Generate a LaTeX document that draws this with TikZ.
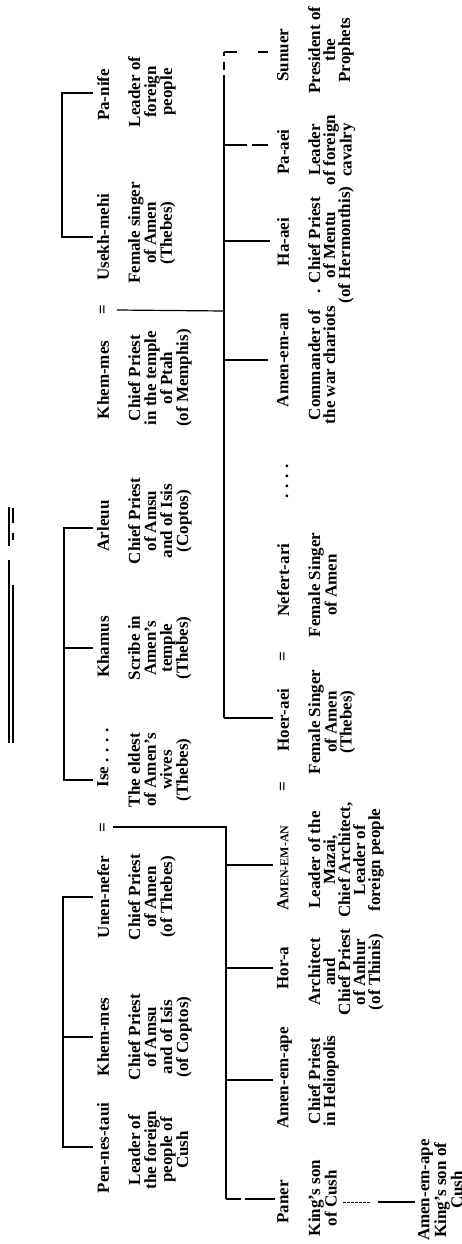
\documentclass[tikz,border=0pt]{standalone}
\usepackage{fontspec}
\setmainfont{Liberation Serif}
\newcommand\nmfont{\fontsize{17}{16}\selectfont\bfseries}
\newcommand\dsfont{\fontsize{17}{16}\selectfont\bfseries}
\newcommand\dsfontb{\fontsize{17}{15}\selectfont\bfseries}
\newcommand\scA{\fontsize{12}{12}\selectfont}
\begin{document}
\begin{tikzpicture}[x=1pt,y=-1pt,
 nm/.style={rotate=90,anchor=north,inner sep=0pt,font=\nmfont},
 eqs/.style={rotate=90,anchor=center,inner sep=0pt,font=\nmfont},
 ds/.style={rotate=90,anchor=north,inner sep=0pt,align=center,font=\dsfont},
 dsb/.style={rotate=90,anchor=north,inner sep=0pt,align=center,font=\dsfontb},
 ln/.style={line width=1.2pt},
 thinln/.style={line width=0.7pt,dash pattern=on 3pt off 1pt}]
\useasboundingbox (0,0) rectangle (461,1244);

% ---------- generation 1: names ----------
\node[nm] (pennes) at (97,1148) {Pen-nes-taui};
\node[nm] (khem1)  at (97,1037) {Khem-mes};
\node[nm] (unen)   at (97,897)  {Unen-nefer};
\node[eqs] (eq1)   at (104,828) {=};
\node[nm] (ise)    at (97,758)  {Ise . . . .};
\node[nm] (khamus) at (97,647)  {Khamus};
\node[nm] (arleuu) at (97,526)  {Arleuu};
\node[nm] (khem2)  at (97,380)  {Khem-mes};
\node[eqs] (eq2)   at (104,310) {=};
\node[nm] (usekh)  at (97,237)  {Usekh-mehi};
\node[nm] (panife) at (97,95)   {Pa-nife};

% ---------- generation 1: descriptions ----------
\node[ds] (dpennes) at (128,1150) {Leader of\\the foreign\\people of\\Cush};
\node[ds] (dkhem1)  at (128,1037) {Chief Priest\\of Amsu\\and of Isis\\(of Coptos)};
\node[ds] (dunen)   at (128,897)  {Chief Priest\\of Amen\\(of Thebes)};
\node[ds] (dise)    at (128,770)  {The eldest\\of Amen's\\wives\\(Thebes)};
\node[ds] (dkhamus) at (128,648)  {Scribe in\\Amen's\\temple\\(Thebes)};
\node[ds] (darleuu) at (128,521)  {Chief Priest\\of Amsu\\and of Isis\\(Coptos)};
\node[ds] (dkhem2)  at (128,378)  {Chief Priest\\in the temple\\of Ptah\\(of Memphis)};
\node[ds] (dusekh)  at (128,233)  {Female singer\\of Amen\\(Thebes)};
\node[ds] (dpanife) at (128,92)   {Leader of\\foreign\\people};

% ---------- generation 2: names ----------
\node[nm] (paner)   at (277,1202) {Paner};
\node[nm] (amape)   at (277,1078) {Amen-em-ape};
\node[nm] (hora)    at (277,968)  {Hor-a};
\node[nm] (AMAN)    at (277,868)  {A{\scA MEN-EM-AN}};
\node[eqs] (eq3)    at (284,787)  {=};
\node[nm] (hoer)    at (277,720)  {Hoer-aei};
\node[eqs] (eq4)    at (284,657)  {=};
\node[nm] (nefert)  at (277,580)  {Nefert-ari};
\node[eqs] (dots)   at (287,481)  {. . . .};
\node[nm] (amenan)  at (277,360)  {Amen-em-an};
\node[nm] (haaei)   at (277,242)  {Ha-aei};
\node[nm] (paaei)   at (277,152)  {Pa-aei};
\node[nm] (sunuer)  at (277,55)   {Sunuer};

% ---------- generation 2: descriptions ----------
\node[dsb] (dpaner)  at (308,1198) {King's son\\of Cush};
\node[dsb] (damape)  at (308,1081) {Chief Priest\\in Heliopolis};
\node[dsb] (dhora)   at (308,972)  {Architect\\and\\Chief Priest\\of Anhur\\(of Thinis)};
\node[dsb] (dAMAN)   at (308,860)  {Leader of the\\Mazai,\\Chief Architect,\\Leader of\\foreign people};
\node[dsb] (dhoer)   at (308,722)  {Female Singer\\of Amen\\(Thebes)};
\node[dsb] (dnefert) at (308,585)  {Female Singer\\of Amen};
\node[dsb] (damenan) at (308,365)  {Commander of\\the war chariots};
\node[dsb] (dhaaei)  at (308,245)  {. Chief Priest\\of Mentu\\(of Hermonthis)};
\node[dsb] (dpaaei)  at (308,150)  {Leader\\of foreign\\cavalry};
\node[dsb] (dsunuer) at (308,50)   {President of\\the\\Prophets};

% ---------- generation 3 ----------
\node[dsb] (amape3) at (418,1190) {Amen-em-ape\\King's son of\\Cush};

% ---------- top double line ----------
\draw[ln] (9,507) -- (9,546) (9,560) -- (9,743);
\draw[ln] (13,508) -- (13,523) (13,533) -- (13,540) (13,585) -- (13,743);

% ---------- coordinates for brackets ----------
\coordinate (a1) at (63,897);  \coordinate (a1e) at (93,897);
\coordinate (a2) at (63,1037); \coordinate (a2e) at (93,1037);
\coordinate (a3) at (63,1147); \coordinate (a3e) at (93,1147);
\coordinate (b1) at (64,528);  \coordinate (b1e) at (93,528);
\coordinate (b2) at (64,648);  \coordinate (b2e) at (93,648);
\coordinate (b3) at (64,780);  \coordinate (b3e) at (93,780);
\coordinate (c1) at (62,93);   \coordinate (c1e) at (93,93);
\coordinate (c2) at (62,237);  \coordinate (c2e) at (93,237);

\coordinate (m1s) at (113,827); \coordinate (m1c) at (226,827);
\coordinate (m1b) at (226,1199);
\coordinate (m2s) at (117,310); \coordinate (m2c) at (224,311);
\coordinate (m2t) at (224,52);  \coordinate (m2b) at (224,718);

% generation 1 brackets
\draw[ln] (a1e) -- (a1) -- (a3) -- (a3e);
\draw[ln] (a2) -- (a2e);
\draw[ln] (b1e) -- (b1) -- (b3) -- (b3e);
\draw[ln] (b2) -- (b2e);
\draw[ln] (c1e) -- (c1) -- (c2) -- (c2e);

% Unen-nefer = Ise and their children
\draw[ln] (m1s) -- (m1c) -- (m1b);
\coordinate (k1) at (226,865);  \coordinate (k1e) at (273,865);
\coordinate (k2) at (226,968);  \coordinate (k2e) at (273,968);
\coordinate (k3) at (226,1080); \coordinate (k3e) at (273,1080);
\coordinate (k4e) at (241,1199); \coordinate (k4f) at (245,1199); \coordinate (k4g) at (275,1199);
\draw[ln] (k1) -- (k1e);
\draw[ln] (k2) -- (k2e);
\draw[ln] (k3) -- (k3e);
\draw[ln] (m1b) -- (k4e) (k4f) -- (k4g);

% Khem-mes = Usekh-mehi and their children
\draw[ln] (m2s) -- (m2c);
\coordinate (m2u) at (224,62);  \coordinate (m2v) at (224,70); \coordinate (m2w) at (224,75);
\coordinate (m2x) at (224,56);
\draw[ln] (m2t) -- (m2x) (m2u) -- (m2v) (m2w) -- (m2b);
\coordinate (h1e) at (273,718);
\coordinate (h2) at (224,360); \coordinate (h2e) at (268,360);
\coordinate (h3) at (224,241); \coordinate (h3e) at (270,241);
\coordinate (h4) at (224,145); \coordinate (h4a) at (247,145); \coordinate (h4b) at (252,145); \coordinate (h4e) at (268,145);
\coordinate (h5) at (224,52);  \coordinate (h5a) at (237,52);  \coordinate (h5b) at (258,52);  \coordinate (h5e) at (268,52);
\draw[ln] (m2b) -- (h1e);
\draw[ln] (h2) -- (h2e);
\draw[ln] (h3) -- (h3e);
\draw[ln] (h4) -- (h4a) (h4b) -- (h4e);
\draw[ln] (h5) -- (h5a) (h5b) -- (h5e);

% Paner to his son
\coordinate (p1) at (343,1202); \coordinate (p2) at (370,1202);
\coordinate (p3) at (378,1202); \coordinate (p4) at (415,1202);
\draw[thinln] (p1) -- (p2);
\draw[ln] (p3) -- (p4);
\end{tikzpicture}
\end{document}
